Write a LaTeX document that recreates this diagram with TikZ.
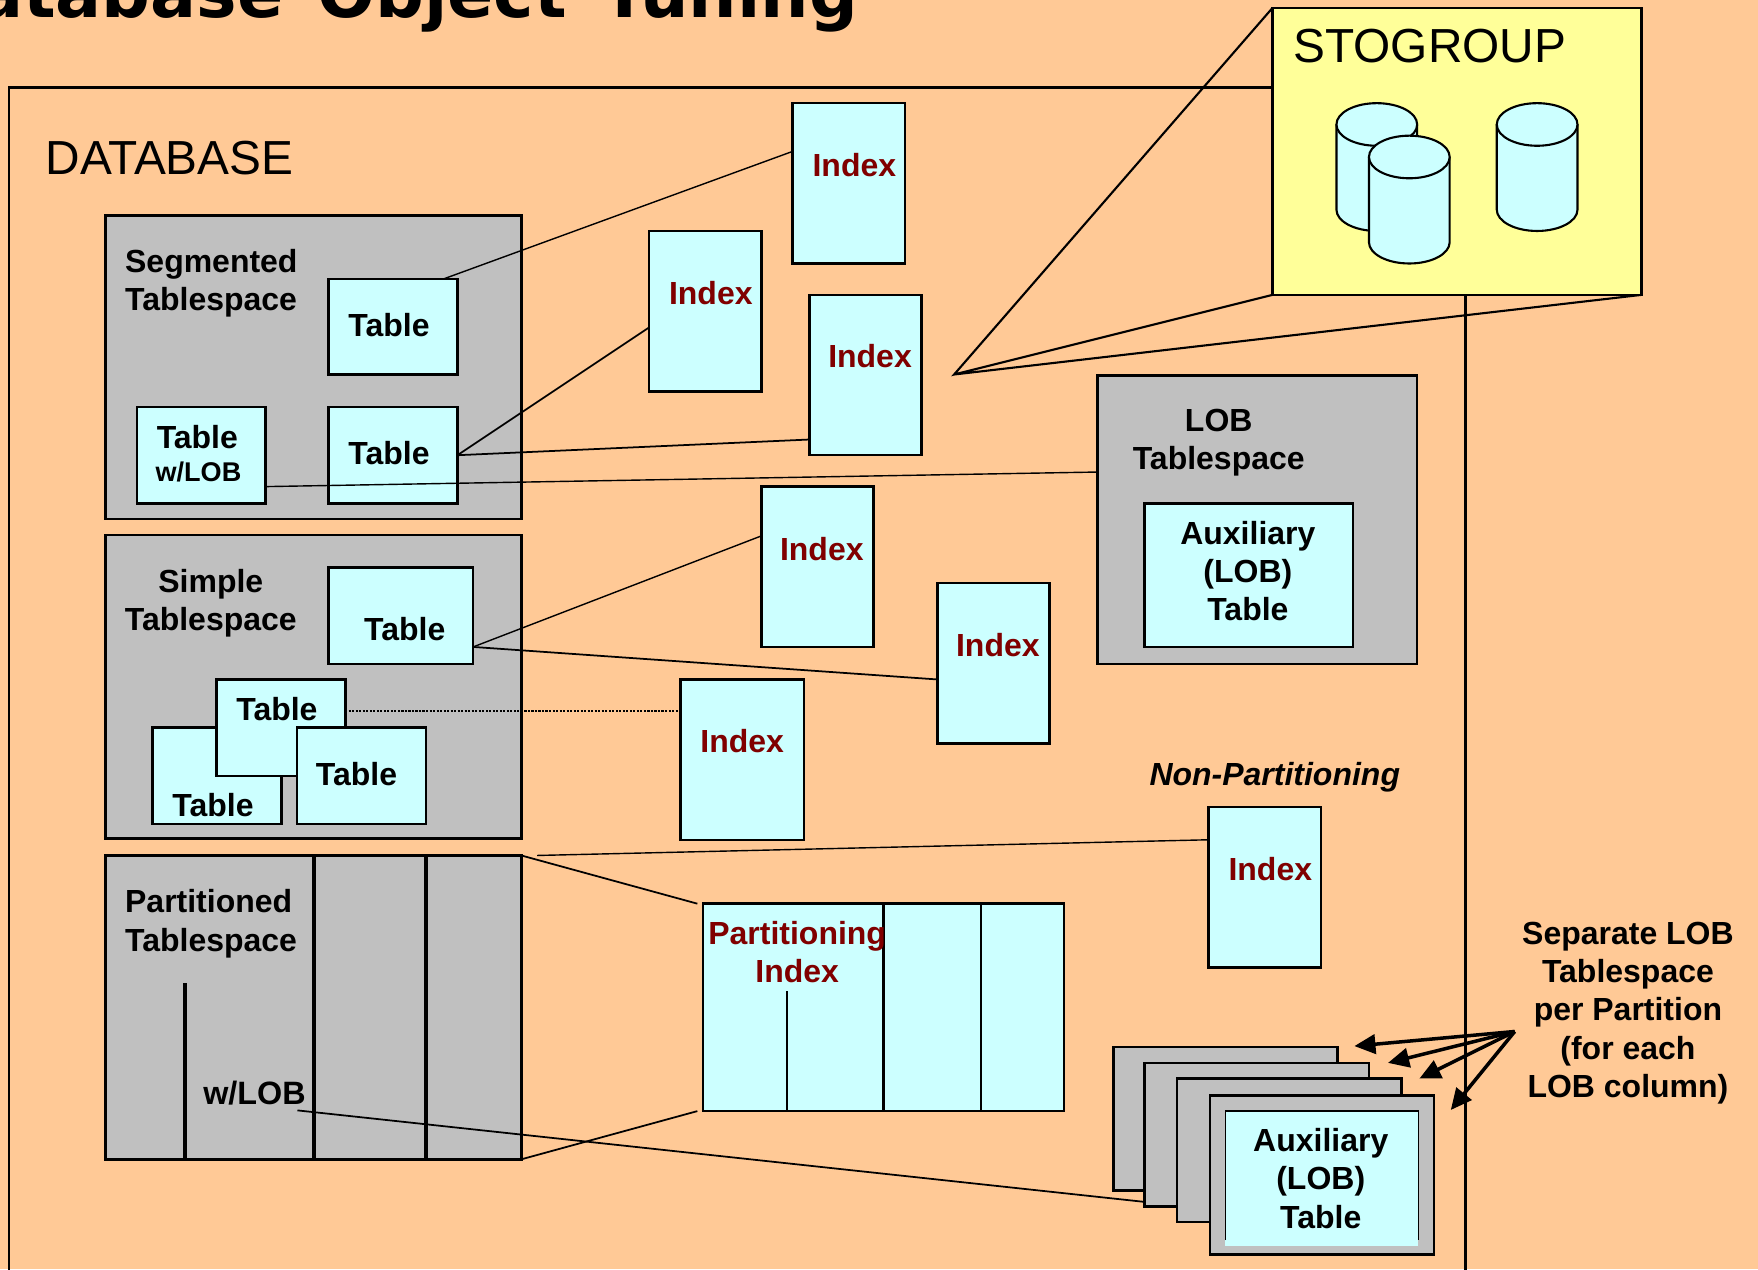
\documentclass[tikz,border=0pt]{standalone}
\usepackage{fontspec}
\setmainfont{Liberation Sans}
\newfontfamily\titlefont{DejaVu Sans}
\usetikzlibrary{calc,arrows.meta}
\definecolor{pagebg}{HTML}{FFC996}
\definecolor{cyanbox}{HTML}{CCFFFF}
\definecolor{greybox}{HTML}{C0C0C0}
\definecolor{stoyellow}{HTML}{FFFF99}
\definecolor{indexred}{HTML}{800000}
\tikzset{
  size/.style 2 args={minimum width=#1*0.11212mm, minimum height=#2*0.11212mm},
  anybox/.style={draw, line width=0.7pt, inner sep=0, outer sep=0, anchor=north west},
  tsbox/.style={anybox, fill=greybox},
  tblbox/.style={anybox, fill=cyanbox},
  txt/.style={inner sep=0, align=center, font=\fontsize{9.1}{10.85}\selectfont\bfseries},
  idxtxt/.style={txt, text=indexred},
  link/.style={line width=0.4pt},
}
\begin{document}
\begin{tikzpicture}[x=0.11212mm, y=-0.11212mm]
    \useasboundingbox (0,0) rectangle (1568,1132);
    \clip (0,0) rectangle (1568,1132);
    \fill[pagebg] (0,0) rectangle (1568,1132);
    \node[anchor=base east, inner sep=0, font=\titlefont\fontsize{19.4}{23}\selectfont\bfseries] (title) at (766,16) {Database\hspace{3pt} Object\hspace{3pt} Tuning};
    % database frame
    \node[anybox, size={1299}{1200}] (db) at (8,78) {};
    \node[inner sep=0, anchor=base west, font=\fontsize{13.6}{16}\selectfont] (dbname) at (40,156) {DATABASE};
    % stogroup
    \node[anybox, fill=stoyellow, size={329}{256}] (sto) at (1135,7) {};
    \node[inner sep=0, anchor=base west, font=\fontsize{13.6}{16}\selectfont] (stoname) at (1153,56) {STOGROUP};
    \foreach \x/\y in {1192/92, 1335/92, 1221/121} {
        \filldraw[fill=cyanbox, line width=0.6pt] (\x,\y+19) -- (\x,\y+95) arc[start angle=180, end angle=0, x radius=36, y radius=19] -- (\x+72,\y+19);
        \filldraw[fill=cyanbox, line width=0.6pt] (\x+36,\y+19) ellipse[x radius=36, y radius=19];
    }
    \coordinate (tip) at (851,334);
    \draw[line width=0.6pt] (sto.north west) -- (tip) -- (sto.south west) (tip) -- (sto.south east);
    % segmented tablespace
    \node[tsbox, size={371}{271}] (seg) at (94,192) {};
    \node[txt, align=left, anchor=north west] (segname) at (111,222) {Segmented\\Tablespace};
    \node[tblbox, size={115}{85}] (sega) at (293,249) {};
    \node[tblbox, size={115}{86}] (segb) at (122,363) {};
    \node[tblbox, size={115}{86}] (segc) at (293,363) {};
    \node[txt] (segatxt) at (347,290) {Table};
    \node[txt] (segbtxt) at (176,390) {Table};
    \node[txt, font=\fontsize{7.7}{9}\selectfont\bfseries] (segbtxtb) at (177,421) {w/LOB};
    \node[txt] (segctxt) at (347,404) {Table};
    % simple tablespace
    \node[tsbox, size={371}{271}] (smp) at (94,477) {};
    \node[txt, anchor=north] (smpname) at (188,507) {Simple\\Tablespace};
    \node[tblbox, size={129}{86}] (smpa) at (293,506) {};
    \node[tblbox, size={115}{86}] (smpb) at (136,649) {};
    \node[tblbox, size={115}{86}] (smpc) at (193,606) {};
    \node[tblbox, size={115}{86}] (smpd) at (265,649) {};
    \node[txt] (smpatxt) at (361,561) {Table};
    \node[txt] (smpbtxt) at (190,718) {Table};
    \node[txt] (smpctxt) at (247,632) {Table};
    \node[txt] (smpdtxt) at (318,690) {Table};
    % partitioned tablespace
    \node[tsbox, size={371}{271}] (part) at (94,763) {};
    \draw[line width=0.9pt] (280,763) -- (280,1034) (380,763) -- (380,1034) (165,877) -- (165,1034);
    \node[txt, align=left, anchor=north west] (partname) at (111,793) {Partitioned\\Tablespace};
    \node[txt, font=\fontsize{9.2}{11}\selectfont\bfseries] (partlob) at (227,975) {w/LOB};
    % index boxes
    \foreach \nm/\x/\y/\w in {idxa/707/92/100, idxb/579/206/100, idxc/722/263/100, idxd/679/434/100, idxe/836/520/100, idxf/607/606/110, idxg/1078/720/100} {
        \node[tblbox, size={\w}{143}] (\nm) at (\x,\y) {};
    }
    \node[idxtxt] (idxatxt) at (762,147) {Index};
    \node[idxtxt] (idxbtxt) at (634,261) {Index};
    \node[idxtxt] (idxctxt) at (776,318) {Index};
    \node[idxtxt] (idxdtxt) at (733,490) {Index};
    \node[idxtxt] (idxetxt) at (890,575) {Index};
    \node[idxtxt] (idxftxt) at (662,661) {Index};
    \node[idxtxt] (idxgtxt) at (1133,775) {Index};
    \node[txt, font=\fontsize{9.1}{10.85}\selectfont\bfseries\itshape] (nonpart) at (1137,693) {Non-Partitioning};
    % partitioning index
    \node[tblbox, size={322}{185}] (pidx) at (627,806) {};
    \draw[line width=0.7pt] (702,884) -- (702,991) (788,806) -- (788,991) (875,806) -- (875,991);
    \node[idxtxt, anchor=north] (pidxtxt) at (711,821) {Partitioning\\Index};
    % lob tablespace
    \node[tsbox, size={285}{257}] (lob) at (979,335) {};
    \node[txt, anchor=north] (lobname) at (1087,364) {LOB\\Tablespace};
    \node[tblbox, size={186}{128}] (aux) at (1021,449) {};
    \node[txt, anchor=north] (auxtxt) at (1113,464) {Auxiliary\\(LOB)\\Table};
    % lob stack
    \node[tsbox, size={200}{128}] (stka) at (993,934) {};
    \node[tsbox, size={200}{128}] (stkb) at (1021,948) {};
    \node[tsbox, size={200}{128}] (stkc) at (1050,962) {};
    \node[tsbox, size={200}{142}] (stkd) at (1079,977) {};
    \fill[cyanbox] (1093,991) rectangle (1265,1111);
    \draw[line width=0.4pt] (1093,1106) -- (1093,991) -- (1265,991) -- (1265,1106);
    \node[txt, anchor=north] (stktxt) at (1178,1006) {Auxiliary\\(LOB)\\Table};
    % side note
    \node[txt, anchor=north] (note) at (1452,822) {Separate LOB\\Tablespace\\per Partition\\(for each\\LOB column)};
    \coordinate (notetail) at (1351,920);
    \foreach \tx/\ty in {1208/933, 1238/948, 1266/962, 1294/990} {
        \draw[line width=1pt, -{Triangle[length=6pt, width=5.5pt]}] (notetail) -- (\tx,\ty);
    }
    % connectors
    \draw[link] ($(sega.north east)+(-13,0)$) -- ($(idxa.north west)+(0,43)$);
    \draw[link, line width=0.5pt] (segc.east) -- ($(idxb.south west)+(0,-57)$);
    \draw[link, line width=0.5pt] (segc.east) -- ($(idxc.south west)+(0,-14)$);
    \draw[link] ($(segb.south east)+(0,-15)$) -- ($(lob.north west)+(0,86)$);
    \draw[link] ($(smpa.south east)+(0,-15)$) -- ($(idxd.north west)+(0,44)$);
    \draw[link, line width=0.5pt] ($(smpa.south east)+(0,-15)$) -- ($(idxe.north west)+(0,86)$);
    \draw[line width=0.6pt, dash pattern=on 0.6pt off 0.4pt] ($(smpc.north east)+(3,28)$) -- ($(idxf.north west)+(0,28)$);
    \draw[link] ($(part.north east)+(14,0)$) -- ($(idxg.north west)+(0,29)$);
    \draw[link, line width=0.5pt] (part.north east) -- ($(pidx.north west)+(-5,0)$);
    \draw[link, line width=0.5pt] (part.south east) -- ($(pidx.south west)+(-5,0)$);
    \draw[link, line width=0.5pt] ($(partlob.south east)+(-8,4)$) -- ($(stkb.south west)+(0,-4)$);
\end{tikzpicture}
\end{document}
